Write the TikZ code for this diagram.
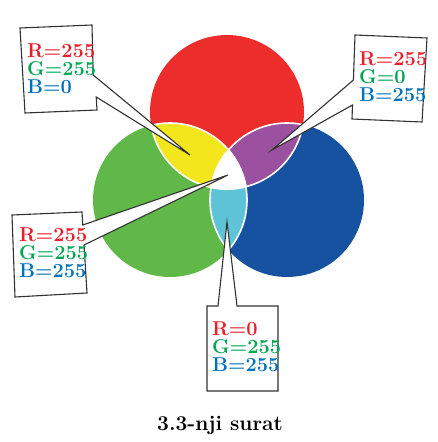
\documentclass[tikz,border=0pt]{standalone}
\usepackage{fontspec}
\definecolor{cred}{RGB}{237,45,43}
\definecolor{cgreen}{RGB}{96,184,72}
\definecolor{cblue}{RGB}{22,82,160}
\definecolor{cyellow}{RGB}{243,230,28}
\definecolor{cpurple}{RGB}{155,80,160}
\definecolor{ccyan}{RGB}{94,195,214}
\definecolor{tred}{RGB}{232,32,42}
\definecolor{tgreen}{RGB}{0,166,81}
\definecolor{tblue}{RGB}{0,114,188}
\definecolor{cline}{RGB}{50,50,50}
\begin{document}
\begin{tikzpicture}[x=1pt,y=-1pt,
  callout/.style={fill=white,draw=cline,line width=1.1pt,line join=miter},
  lbl/.style={anchor=north west,inner sep=0pt,align=left,font=\fontsize{20}{18}\selectfont\bfseries},
  lens/.style={white,line width=1.6pt}]
\useasboundingbox (0,0) rectangle (438,442);
\coordinate (R) at (227,112);
\coordinate (G) at (170,200);
\coordinate (B) at (287,200);
\def\rad{77}
% base circles
\fill[cred] (R) circle[radius=\rad];
\fill[cgreen] (G) circle[radius=\rad];
\fill[cblue] (B) circle[radius=\rad];
% lenses
\begin{scope}\clip (R) circle[radius=\rad]; \fill[cyellow] (G) circle[radius=\rad];\end{scope}
\begin{scope}\clip (R) circle[radius=\rad]; \fill[cpurple] (B) circle[radius=\rad];\end{scope}
\begin{scope}\clip (G) circle[radius=\rad]; \fill[ccyan] (B) circle[radius=\rad];\end{scope}
\begin{scope}\clip (R) circle[radius=\rad]; \clip (G) circle[radius=\rad]; \fill[white] (B) circle[radius=\rad];\end{scope}
% white borders of the lenses
\begin{scope}\clip (R) circle[radius=\rad]; \draw[lens] (G) circle[radius=\rad]; \draw[lens] (B) circle[radius=\rad];\end{scope}
\begin{scope}\clip (G) circle[radius=\rad]; \draw[lens] (R) circle[radius=\rad]; \draw[lens] (B) circle[radius=\rad];\end{scope}
\begin{scope}\clip (B) circle[radius=\rad]; \draw[lens] (R) circle[radius=\rad]; \draw[lens] (G) circle[radius=\rad];\end{scope}
% pointer tips
\coordinate (tipY) at (190,155);
\coordinate (tipP) at (272,150);
\coordinate (tipW) at (228,175);
\coordinate (tipC) at (227,222);
% callout 1 (yellow)
\draw[callout] (20,28) -- (92,25) -- (93.2,75) -- (tipY) -- (96.2,97) -- (97,110) -- (25,113) -- cycle;
\node[lbl] (ylab) at (27,43.5) {\textcolor{tred}{R=255}\\\textcolor{tgreen}{G=255}\\\textcolor{tblue}{B=0}};
% callout 2 (purple)
\draw[callout] (355,35) -- (427,38) -- (422,122) -- (352,119) -- (352.5,105) -- (tipP) -- (353.4,80) -- cycle;
\node[lbl] (plab) at (359,52) {\textcolor{tred}{R=255}\\\textcolor{tgreen}{G=0}\\\textcolor{tblue}{B=255}};
% callout 3 (white)
\draw[callout] (12,215) -- (82,212) -- (82.8,225) -- (tipW) -- (84,245) -- (87,293) -- (15,297) -- cycle;
\node[lbl] (wlab) at (19,228) {\textcolor{tred}{R=255}\\\textcolor{tgreen}{G=255}\\\textcolor{tblue}{B=255}};
% callout 4 (cyan)
\draw[callout] (207,306) -- (218,306) -- (tipC) -- (237,306) -- (278,306) -- (278,391) -- (207,391) -- cycle;
\node[lbl] (clab) at (212,321.5) {\textcolor{tred}{R=0}\\\textcolor{tgreen}{G=255}\\\textcolor{tblue}{B=255}};
% caption
\node[anchor=base west,inner sep=0pt,font=\fontsize{21}{21}\selectfont\bfseries] (cap) at (157,430) {3.3-nji surat};
\end{tikzpicture}
\end{document}
